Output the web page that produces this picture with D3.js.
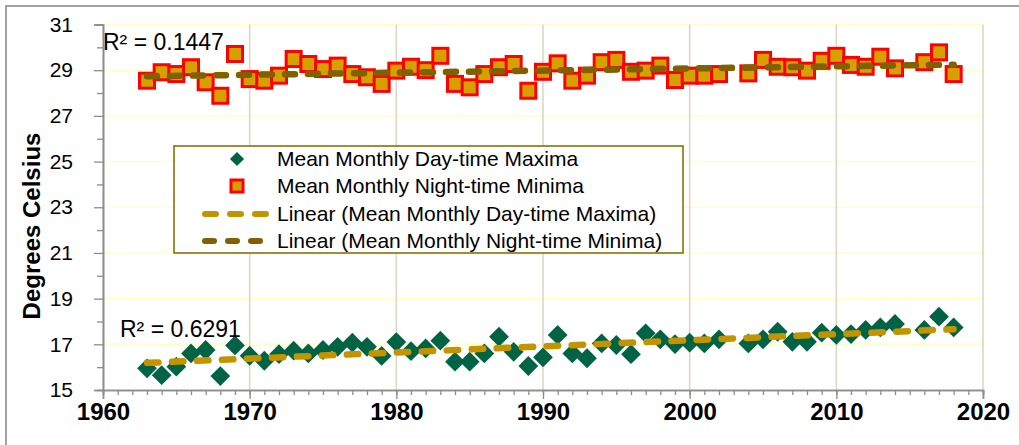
<!DOCTYPE html>
<html>
<head>
<meta charset="utf-8">
<script src="https://cdn.jsdelivr.net/npm/d3@7"></script>
<style>
  html, body { margin: 0; padding: 0; background: #fff; }
  svg { display: block; font-family: "Liberation Sans", Arial, sans-serif; }
</style>
</head>
<body>
<svg id="chart" width="1019" height="445"></svg>
<script>
// Annual means of monthly temperature extremes
const years = [1963, 1964, 1965, 1966, 1967, 1968, 1969, 1970, 1971, 1972,
  1973, 1974, 1975, 1976, 1977, 1978, 1979, 1980, 1981, 1982,
  1983, 1984, 1985, 1986, 1987, 1988, 1989, 1990, 1991, 1992,
  1993, 1994, 1995, 1996, 1997, 1998, 1999, 2000, 2001, 2002,
  2004, 2005, 2006, 2007, 2008, 2009, 2010, 2011, 2012, 2013,
  2014, 2016, 2017, 2018];

const dayMaxima = [15.95, 15.65, 16.02, 16.60, 16.75, 15.61, 16.95, 16.50, 16.28, 16.57,
  16.72, 16.60, 16.75, 16.89, 17.07, 16.89, 16.49, 17.10, 16.70, 16.82,
  17.16, 16.24, 16.24, 16.60, 17.33, 16.67, 16.05, 16.43, 17.41, 16.60,
  16.39, 17.04, 16.97, 16.57, 17.48, 17.22, 17.01, 17.07, 17.04, 17.22,
  17.04, 17.22, 17.55, 17.11, 17.11, 17.51, 17.41, 17.45, 17.63, 17.74,
  17.89, 17.63, 18.21, 17.74];

const nightMinima = [28.54, 28.91, 28.83, 29.13, 28.47, 27.88, 29.71, 28.61, 28.54, 28.76,
  29.49, 29.27, 29.05, 29.20, 28.83, 28.69, 28.40, 28.98, 29.15, 29.00,
  29.63, 28.40, 28.25, 28.83, 29.13, 29.27, 28.10, 28.93, 29.30, 28.54,
  28.76, 29.35, 29.45, 28.93, 28.98, 29.20, 28.57, 28.76, 28.76, 28.83,
  28.86, 29.45, 29.15, 29.13, 28.98, 29.41, 29.63, 29.23, 29.15, 29.59,
  29.08, 29.35, 29.78, 28.83];

const xTicks = [1960, 1970, 1980, 1990, 2000, 2010, 2020];
const yTicks = [15, 17, 19, 21, 23, 25, 27, 29, 31];
const rSquaredDay = "R² = 0.6291";
const rSquaredNight = "R² = 0.1447";
const legendLabels = [
  "Mean Monthly Day-time Maxima",
  "Mean Monthly Night-time Minima",
  "Linear (Mean Monthly Day-time Maxima)",
  "Linear (Mean Monthly Night-time Minima)"
];
const yTitle = "Degrees Celsius";

const COL = {
  diamond: "#006444",
  squareFill: "#D6A100",
  squareStroke: "#FF0000",
  trendDay: "#C39400",
  trendNight: "#806000",
  axis: "#8C8C8C",
  gridH: "#FFFFC6",
  gridV: "#DDD8C4",
  legendBorder: "#8C7000"
};

const svg = d3.select("#chart");

const x = d3.scaleLinear().domain([1960, 2020]).range([103, 983]);
const y = d3.scaleLinear().domain([15, 31]).range([390, 24.5]);

// Outer chart frame
svg.append("rect")
  .attr("x", 6).attr("y", 6).attr("width", 1100).attr("height", 500)
  .attr("fill", "#fff").attr("stroke", "#8a8a8a").attr("stroke-width", 1.6);

// Gridlines
svg.append("g").selectAll("line").data(yTicks.filter(v => v > 15)).join("line")
  .attr("x1", x(1960)).attr("x2", x(2020))
  .attr("y1", d => y(d)).attr("y2", d => y(d))
  .attr("stroke", COL.gridH).attr("stroke-width", 1.5);

svg.append("g").selectAll("line").data(xTicks.filter(v => v > 1960)).join("line")
  .attr("x1", d => x(d)).attr("x2", d => x(d))
  .attr("y1", y(31)).attr("y2", y(15))
  .attr("stroke", COL.gridV).attr("stroke-width", 1.6);

// X axis: minor ticks every year, major every decade
const xAxisMinor = d3.axisBottom(x).tickValues(d3.range(1960, 2021)).tickSize(5).tickFormat("");
const xAxisMajor = d3.axisBottom(x).tickValues(xTicks).tickSize(9).tickFormat(d3.format("d"));
const gxMinor = svg.append("g").attr("transform", `translate(0,${y(15)})`).call(xAxisMinor);
const gx = svg.append("g").attr("transform", `translate(0,${y(15)})`).call(xAxisMajor);
[gxMinor, gx].forEach(g => {
  g.select(".domain").attr("stroke", COL.axis).attr("stroke-width", 1.6);
  g.selectAll(".tick line").attr("stroke", COL.axis).attr("stroke-width", 1.3);
});
gx.selectAll(".tick text")
  .attr("y", 30).attr("dy", 0)
  .attr("font-size", 24).attr("font-weight", "bold").attr("fill", "#000")
  .attr("font-family", "Liberation Sans, Arial, sans-serif");

// Y axis: labelled odd values, minor ticks at even values
const yAxisMinor = d3.axisLeft(y).tickValues(d3.range(16, 31, 2)).tickSize(6).tickFormat("");
const yAxisMajor = d3.axisLeft(y).tickValues(yTicks).tickSize(9).tickFormat(d3.format("d"));
const gyMinor = svg.append("g").attr("transform", `translate(${x(1960)},0)`).call(yAxisMinor);
const gy = svg.append("g").attr("transform", `translate(${x(1960)},0)`).call(yAxisMajor);
[gyMinor, gy].forEach(g => {
  g.select(".domain").attr("stroke", COL.axis).attr("stroke-width", 1.6);
  g.selectAll(".tick line").attr("stroke", COL.axis).attr("stroke-width", 1.3);
});
gy.selectAll(".tick text")
  .attr("x", -30)
  .attr("font-size", 21).attr("fill", "#000")
  .attr("font-family", "Liberation Sans, Arial, sans-serif");

// Y axis title
svg.append("text")
  .attr("transform", `translate(40,${226}) rotate(-90)`)
  .attr("text-anchor", "middle")
  .attr("font-size", 24).attr("font-weight", "bold")
  .text(yTitle);

const dayPts = years.map((yr, i) => ({ yr, v: dayMaxima[i] }));
const nightPts = years.map((yr, i) => ({ yr, v: nightMinima[i] }));

// Least-squares linear fit
function linearFit(pts) {
  const mx = d3.mean(pts, p => p.yr), my = d3.mean(pts, p => p.v);
  let sxy = 0, sxx = 0;
  pts.forEach(p => { sxy += (p.yr - mx) * (p.v - my); sxx += (p.yr - mx) ** 2; });
  const b = sxy / sxx, a = my - b * mx;
  const x0 = d3.min(pts, p => p.yr), x1 = d3.max(pts, p => p.yr);
  return [{ yr: x0, v: a + b * x0 }, { yr: x1, v: a + b * x1 }];
}

// Day-time maxima: green diamonds
svg.append("g").selectAll("rect").data(dayPts).join("rect")
  .attr("x", -7).attr("y", -7).attr("width", 14).attr("height", 14)
  .attr("transform", d => `translate(${x(d.yr)},${y(d.v)}) rotate(45)`)
  .attr("fill", COL.diamond);

// Night-time minima: gold squares with red outline
svg.append("g").selectAll("rect").data(nightPts).join("rect")
  .attr("x", d => x(d.yr) - 7.5).attr("y", d => y(d.v) - 7.5)
  .attr("width", 15).attr("height", 15)
  .attr("fill", COL.squareFill).attr("stroke", COL.squareStroke).attr("stroke-width", 3);

// Trend lines
const line = d3.line().x(d => x(d.yr)).y(d => y(d.v));
svg.append("path").datum(linearFit(dayPts)).attr("d", line)
  .attr("fill", "none").attr("stroke", COL.trendDay).attr("stroke-width", 6.5)
  .attr("stroke-linecap", "round").attr("stroke-dasharray", "11.5,13.5");
svg.append("path").datum(linearFit(nightPts)).attr("d", line)
  .attr("fill", "none").attr("stroke", COL.trendNight).attr("stroke-width", 6.5)
  .attr("stroke-linecap", "round").attr("stroke-dasharray", "10,13");

// R² annotations
svg.append("text").attr("x", 103).attr("y", 50)
  .attr("font-size", 23).attr("fill", "#000").text(rSquaredNight);
svg.append("text").attr("x", 120).attr("y", 337)
  .attr("font-size", 23).attr("fill", "#000").text(rSquaredDay);

// Legend
const lg = svg.append("g");
lg.append("rect").attr("x", 174).attr("y", 146).attr("width", 509).attr("height", 107)
  .attr("fill", "#fff").attr("stroke", COL.legendBorder).attr("stroke-width", 1.6);

const rowBase = [166, 193, 221, 248];
lg.selectAll("text").data(legendLabels).join("text")
  .attr("x", 277).attr("y", (d, i) => rowBase[i])
  .attr("font-size", 21).attr("fill", "#000").text(d => d);

lg.append("rect").attr("x", -5).attr("y", -5).attr("width", 10).attr("height", 10)
  .attr("transform", `translate(237,${rowBase[0] - 7}) rotate(45)`)
  .attr("fill", COL.diamond);
lg.append("rect").attr("x", 237 - 6).attr("y", rowBase[1] - 7 - 6).attr("width", 12).attr("height", 12)
  .attr("fill", COL.squareFill).attr("stroke", COL.squareStroke).attr("stroke-width", 3);
lg.append("line").attr("x1", 205).attr("x2", 270).attr("y1", rowBase[2] - 7).attr("y2", rowBase[2] - 7)
  .attr("stroke", COL.trendDay).attr("stroke-width", 6).attr("stroke-linecap", "round")
  .attr("stroke-dasharray", "11,14");
lg.append("line").attr("x1", 205).attr("x2", 263).attr("y1", rowBase[3] - 7).attr("y2", rowBase[3] - 7)
  .attr("stroke", COL.trendNight).attr("stroke-width", 6).attr("stroke-linecap", "round")
  .attr("stroke-dasharray", "9,14");
</script>
</body>
</html>
